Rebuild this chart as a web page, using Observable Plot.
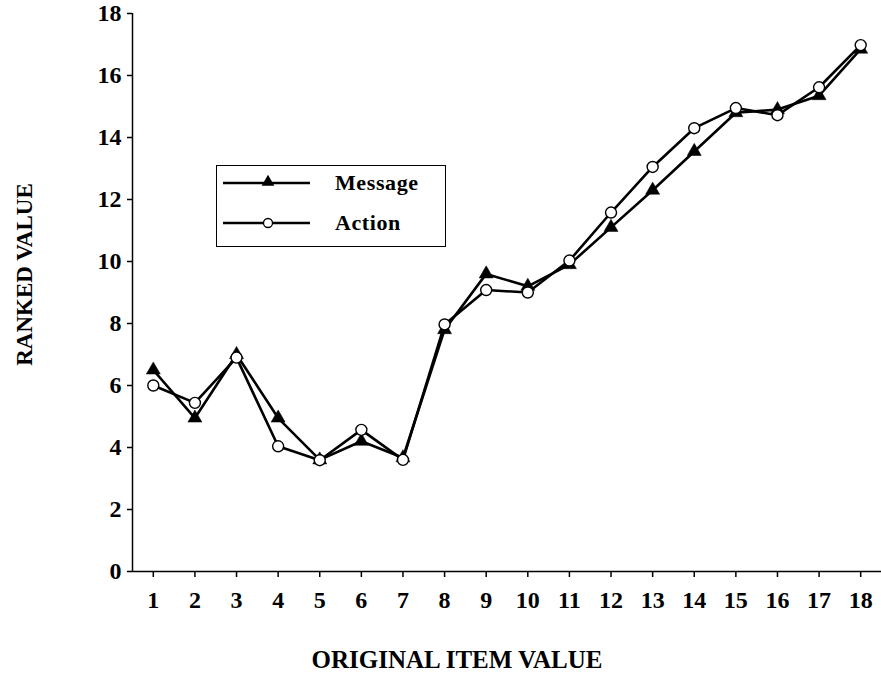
<!DOCTYPE html>
<html>
<head>
<meta charset="utf-8">
<script src="https://cdn.jsdelivr.net/npm/d3@7"></script>
<script src="https://cdn.jsdelivr.net/npm/@observablehq/plot@0.6"></script>
<style>
  html, body { margin: 0; padding: 0; background: #fff; }
  #wrap { position: relative; width: 881px; height: 675px; }
  #legend { position: absolute; left: 216px; top: 165px; width: 230px; height: 82px;
    border: 1.5px solid #000; box-sizing: border-box; background: #fff;
    font-family: "Liberation Serif", "Times New Roman", serif; font-weight: bold; font-size: 22px; letter-spacing: 0.6px; }
  .row { position: absolute; left: 0; display: flex; align-items: center; }
  .row svg { display: block; }
  .row span { margin-left: 22px; }
</style>
</head>
<body>
<div id="wrap">
  <div id="chart"></div>
  <div id="legend"></div>
</div>
<script>
const items = [1,2,3,4,5,6,7,8,9,10,11,12,13,14,15,16,17,18];
const message = [6.5,4.95,7.0,4.95,3.6,4.2,3.67,7.8,9.6,9.2,9.9,11.1,12.3,13.55,14.8,14.9,15.35,16.85];
const action  = [6.0,5.44,6.9,4.04,3.59,4.57,3.6,7.97,9.08,9.0,10.03,11.58,13.05,14.3,14.95,14.72,15.62,16.98];
const seriesNames = ["Message", "Action"];
const yTicks = [0,2,4,6,8,10,12,14,16,18];
const xTitle = "ORIGINAL ITEM VALUE";
const yTitle = "RANKED VALUE";

const msgData = items.map((x, i) => ({x, y: message[i]}));
const actData = items.map((x, i) => ({x, y: action[i]}));

const font = '"Liberation Serif", "Times New Roman", serif';

const chart = Plot.plot({
  width: 881,
  height: 675,
  marginLeft: 132,
  marginRight: 0,
  marginTop: 13,
  marginBottom: 104,
  style: {fontFamily: font, fontWeight: "bold", fontSize: "24px", color: "#000", background: "#fff", overflow: "visible"},
  x: {domain: [0.5, 18.5], axis: null},
  y: {domain: [0, 18], axis: null},
  marks: [
    Plot.axisY({ticks: yTicks, tickSize: 5, tickPadding: 6, tickFormat: d => d, fontSize: 24, fontWeight: "bold", label: null, strokeWidth: 1.5}),
    Plot.axisX({ticks: items, tickSize: 6, tickPadding: 13, tickFormat: d => d, fontSize: 24, fontWeight: "bold", label: null, strokeWidth: 1.5}),
    Plot.ruleX([0.5], {stroke: "#000", strokeWidth: 1.5}),
    Plot.ruleY([0], {stroke: "#000", strokeWidth: 1.5}),
    Plot.line(msgData, {x: "x", y: "y", stroke: "#000", strokeWidth: 2.6}),
    Plot.line(actData, {x: "x", y: "y", stroke: "#000", strokeWidth: 2.6}),
    Plot.dot(msgData, {x: "x", y: "y", symbol: "triangle", r: 5.2, fill: "#000", stroke: "#000", strokeWidth: 0.5}),
    Plot.dot(actData, {x: "x", y: "y", symbol: "circle", r: 5.5, fill: "#fff", stroke: "#000", strokeWidth: 1.4}),
    Plot.text([xTitle], {frameAnchor: "bottom", textAnchor: "middle", lineAnchor: "middle", dx: -50, dy: 88, fontSize: 25, fontWeight: "bold", fontFamily: font}),
    Plot.text([yTitle], {frameAnchor: "left", textAnchor: "middle", lineAnchor: "middle", dx: -108, dy: -18, rotate: -90, fontSize: 23, fontWeight: "bold", fontFamily: font})
  ]
});
document.getElementById("chart").appendChild(chart);

// Legend
const legend = document.getElementById("legend");
const rows = [
  {name: seriesNames[0], top: 3, marker: "triangle"},
  {name: seriesNames[1], top: 43, marker: "circle"}
];
for (const r of rows) {
  const row = document.createElement("div");
  row.className = "row";
  row.style.top = r.top + "px";
  const ns = "http://www.w3.org/2000/svg";
  const svg = document.createElementNS(ns, "svg");
  svg.setAttribute("width", 96);
  svg.setAttribute("height", 28);
  const line = document.createElementNS(ns, "line");
  line.setAttribute("x1", 6); line.setAttribute("x2", 93);
  line.setAttribute("y1", 14); line.setAttribute("y2", 14);
  line.setAttribute("stroke", "#000"); line.setAttribute("stroke-width", 2.6);
  svg.appendChild(line);
  if (r.marker === "triangle") {
    const p = document.createElementNS(ns, "path");
    p.setAttribute("d", d3.symbol(d3.symbolTriangle, 70)());
    p.setAttribute("transform", "translate(51,13)");
    p.setAttribute("fill", "#000");
    svg.appendChild(p);
  } else {
    const c = document.createElementNS(ns, "circle");
    c.setAttribute("cx", 51); c.setAttribute("cy", 14); c.setAttribute("r", 4.5);
    c.setAttribute("fill", "#fff"); c.setAttribute("stroke", "#000"); c.setAttribute("stroke-width", 1.3);
    svg.appendChild(c);
  }
  row.appendChild(svg);
  const span = document.createElement("span");
  span.textContent = r.name;
  row.appendChild(span);
  legend.appendChild(row);
}
</script>
</body>
</html>
